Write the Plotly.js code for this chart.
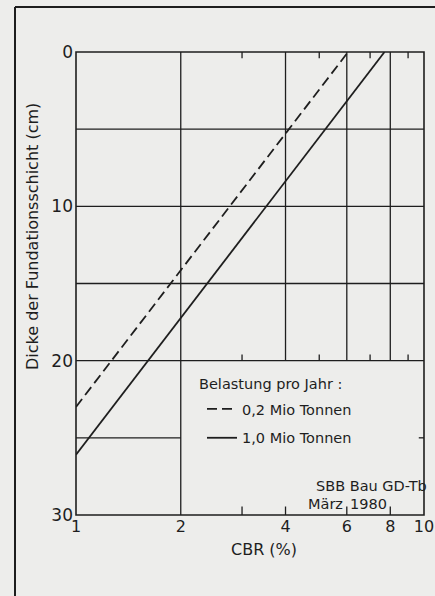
<!DOCTYPE html>
<html>
<head>
<meta charset="utf-8">
<script src="https://cdn.plot.ly/plotly-3.0.1.min.js"></script>
<style>
html,body{margin:0;padding:0;background:#ededeb;}
#chart{width:435px;height:596px;}
</style>
</head>
<body>
<div id="chart"></div>
<script>
// Data
const cbrDashed = [1, 6.05];
const depthDashed = [23.0, 0];
const cbrSolid = [1, 7.7];
const depthSolid = [26.1, 0];
const seriesNames = ['0,2 Mio Tonnen', '1,0 Mio Tonnen'];
const xTickVals = [1, 2, 4, 6, 8, 10];
const xTickText = ['1', '2', '4', '6', '8', '10'];
const yTickVals = [0, 10, 20, 30];
const yTickText = ['0', '10', '20', '30'];
const legendTitle = 'Belastung pro Jahr :';
const xTitle = 'CBR (%)';
const yTitle = 'Dicke der Fundationsschicht (cm)';
const noteLine1 = 'SBB Bau GD-Tb';
const noteMonth = 'März';
const noteYear = '1980';

// grid structure (data coords)
const gridFullX = [2];
const gridUpperX = [4, 6, 8];
const gridFullY = [5, 10, 15, 20];
const gridPartY = [25];
const minorTopX = [3, 5, 7, 9];
const minorMidX = [3, 5, 7, 9];
const minorBottomX = [3, 4, 6, 8];

const ink = '#1e1e1e';
const F = 'DejaVu Sans, sans-serif';
const py = (p) => (515 - p) / 463;   // pixel row -> paper y
const px = (p) => (p - 76) / 348;    // pixel col -> paper x

const traces = [
  {x: cbrDashed, y: depthDashed, mode: 'lines', name: seriesNames[0], legendgroup: 'a',
   line: {color: ink, width: 1.8, dash: '10px,5px'}},
  {x: cbrSolid, y: depthSolid, mode: 'lines', name: seriesNames[1], legendgroup: 'b',
   line: {color: ink, width: 1.8}}
];

const shapes = [];
const L = (o) => Object.assign({type: 'line', xref: 'x', yref: 'y', line: {color: ink, width: 1.3}, layer: 'below'}, o);
gridFullX.forEach(v => shapes.push(L({x0: v, x1: v, y0: 0, y1: 30})));
gridUpperX.forEach(v => shapes.push(L({x0: v, x1: v, y0: 0, y1: 20})));
gridFullY.forEach(v => shapes.push(L({x0: 1, x1: 10, y0: v, y1: v})));
gridPartY.forEach(v => shapes.push(L({x0: 1, x1: 2, y0: v, y1: v})));
const tick = (x, yv, len) => ({type: 'line', xref: 'x', yref: 'y', x0: x, x1: x, y0: yv, y1: yv + len, line: {color: ink, width: 1.3}});
minorTopX.forEach(v => shapes.push(tick(v, 0, 0.4)));
minorMidX.forEach(v => shapes.push(tick(v, 20, -0.4)));
minorBottomX.forEach(v => shapes.push(tick(v, 30, -0.55)));
shapes.push({type: 'line', xref: 'paper', yref: 'y', x0: 1, x1: 0.985, y0: 25, y1: 25, line: {color: ink, width: 1.3}});
// plot frame
shapes.push({type: 'rect', xref: 'paper', yref: 'paper', x0: 0, x1: 1, y0: 0, y1: 1, line: {color: ink, width: 1.6}});
// outer drawing frame
shapes.push({type: 'line', xref: 'paper', yref: 'paper', x0: px(15), x1: px(15), y0: py(7), y1: py(600), line: {color: ink, width: 2}});
shapes.push({type: 'line', xref: 'paper', yref: 'paper', x0: px(15), x1: px(440), y0: py(7), y1: py(7), line: {color: ink, width: 2}});

const annotations = [
  {text: xTitle, xref: 'paper', yref: 'paper', x: px(264), y: py(549), yanchor: 'middle',
   showarrow: false, font: {family: F, size: 16, color: ink}},
  {text: yTitle, xref: 'paper', yref: 'paper', x: px(32), y: py(237), textangle: -90,
   xanchor: 'center', yanchor: 'middle',
   showarrow: false, font: {family: F, size: 16, color: ink}},
  {text: legendTitle, xref: 'paper', yref: 'paper', x: px(197), xanchor: 'left', y: py(384), yanchor: 'middle',
   showarrow: false, font: {family: F, size: 14.5, color: ink}},
  {text: noteLine1, xref: 'paper', yref: 'paper', x: 1, xshift: 5, xanchor: 'right', y: py(486),
   yanchor: 'middle', showarrow: false, font: {family: F, size: 14.5, color: ink}},
  {text: noteMonth, xref: 'x', yref: 'paper', x: Math.log10(6), xshift: -2, xanchor: 'right', y: py(504),
   yanchor: 'middle', showarrow: false, font: {family: F, size: 14.5, color: ink}},
  {text: noteYear, xref: 'x', yref: 'paper', x: Math.log10(6), xshift: 1, xanchor: 'left', y: py(504),
   yanchor: 'middle', showarrow: false, font: {family: F, size: 14.5, color: ink}}
];

const layout = {
  width: 435, height: 596,
  margin: {l: 76, r: 11, t: 52, b: 81, pad: 0},
  paper_bgcolor: '#ededeb', plot_bgcolor: '#ededeb',
  font: {family: F, color: ink},
  showlegend: true,
  legend: {
    x: px(202), y: py(393), xanchor: 'left', yanchor: 'top',
    bgcolor: 'rgba(0,0,0,0)', borderwidth: 0,
    font: {family: F, size: 14.5, color: ink},
    traceorder: 'grouped', tracegroupgap: 7, itemwidth: 30
  },
  xaxis: {
    type: 'log', range: [0, 1], tickvals: xTickVals, ticktext: xTickText,
    showgrid: false, zeroline: false, showline: false, ticks: '',
    tickfont: {family: F, size: 16, color: ink}, ticklabelstandoff: 0
  },
  yaxis: {
    range: [30, 0], tickvals: yTickVals, ticktext: yTickText,
    showgrid: false, zeroline: false, showline: false, ticks: '',
    tickfont: {family: F, size: 17, color: ink}, ticklabelstandoff: 2
  },
  shapes: shapes,
  annotations: annotations
};

Plotly.newPlot('chart', traces, layout, {staticPlot: true, displayModeBar: false});
</script>
</body>
</html>
